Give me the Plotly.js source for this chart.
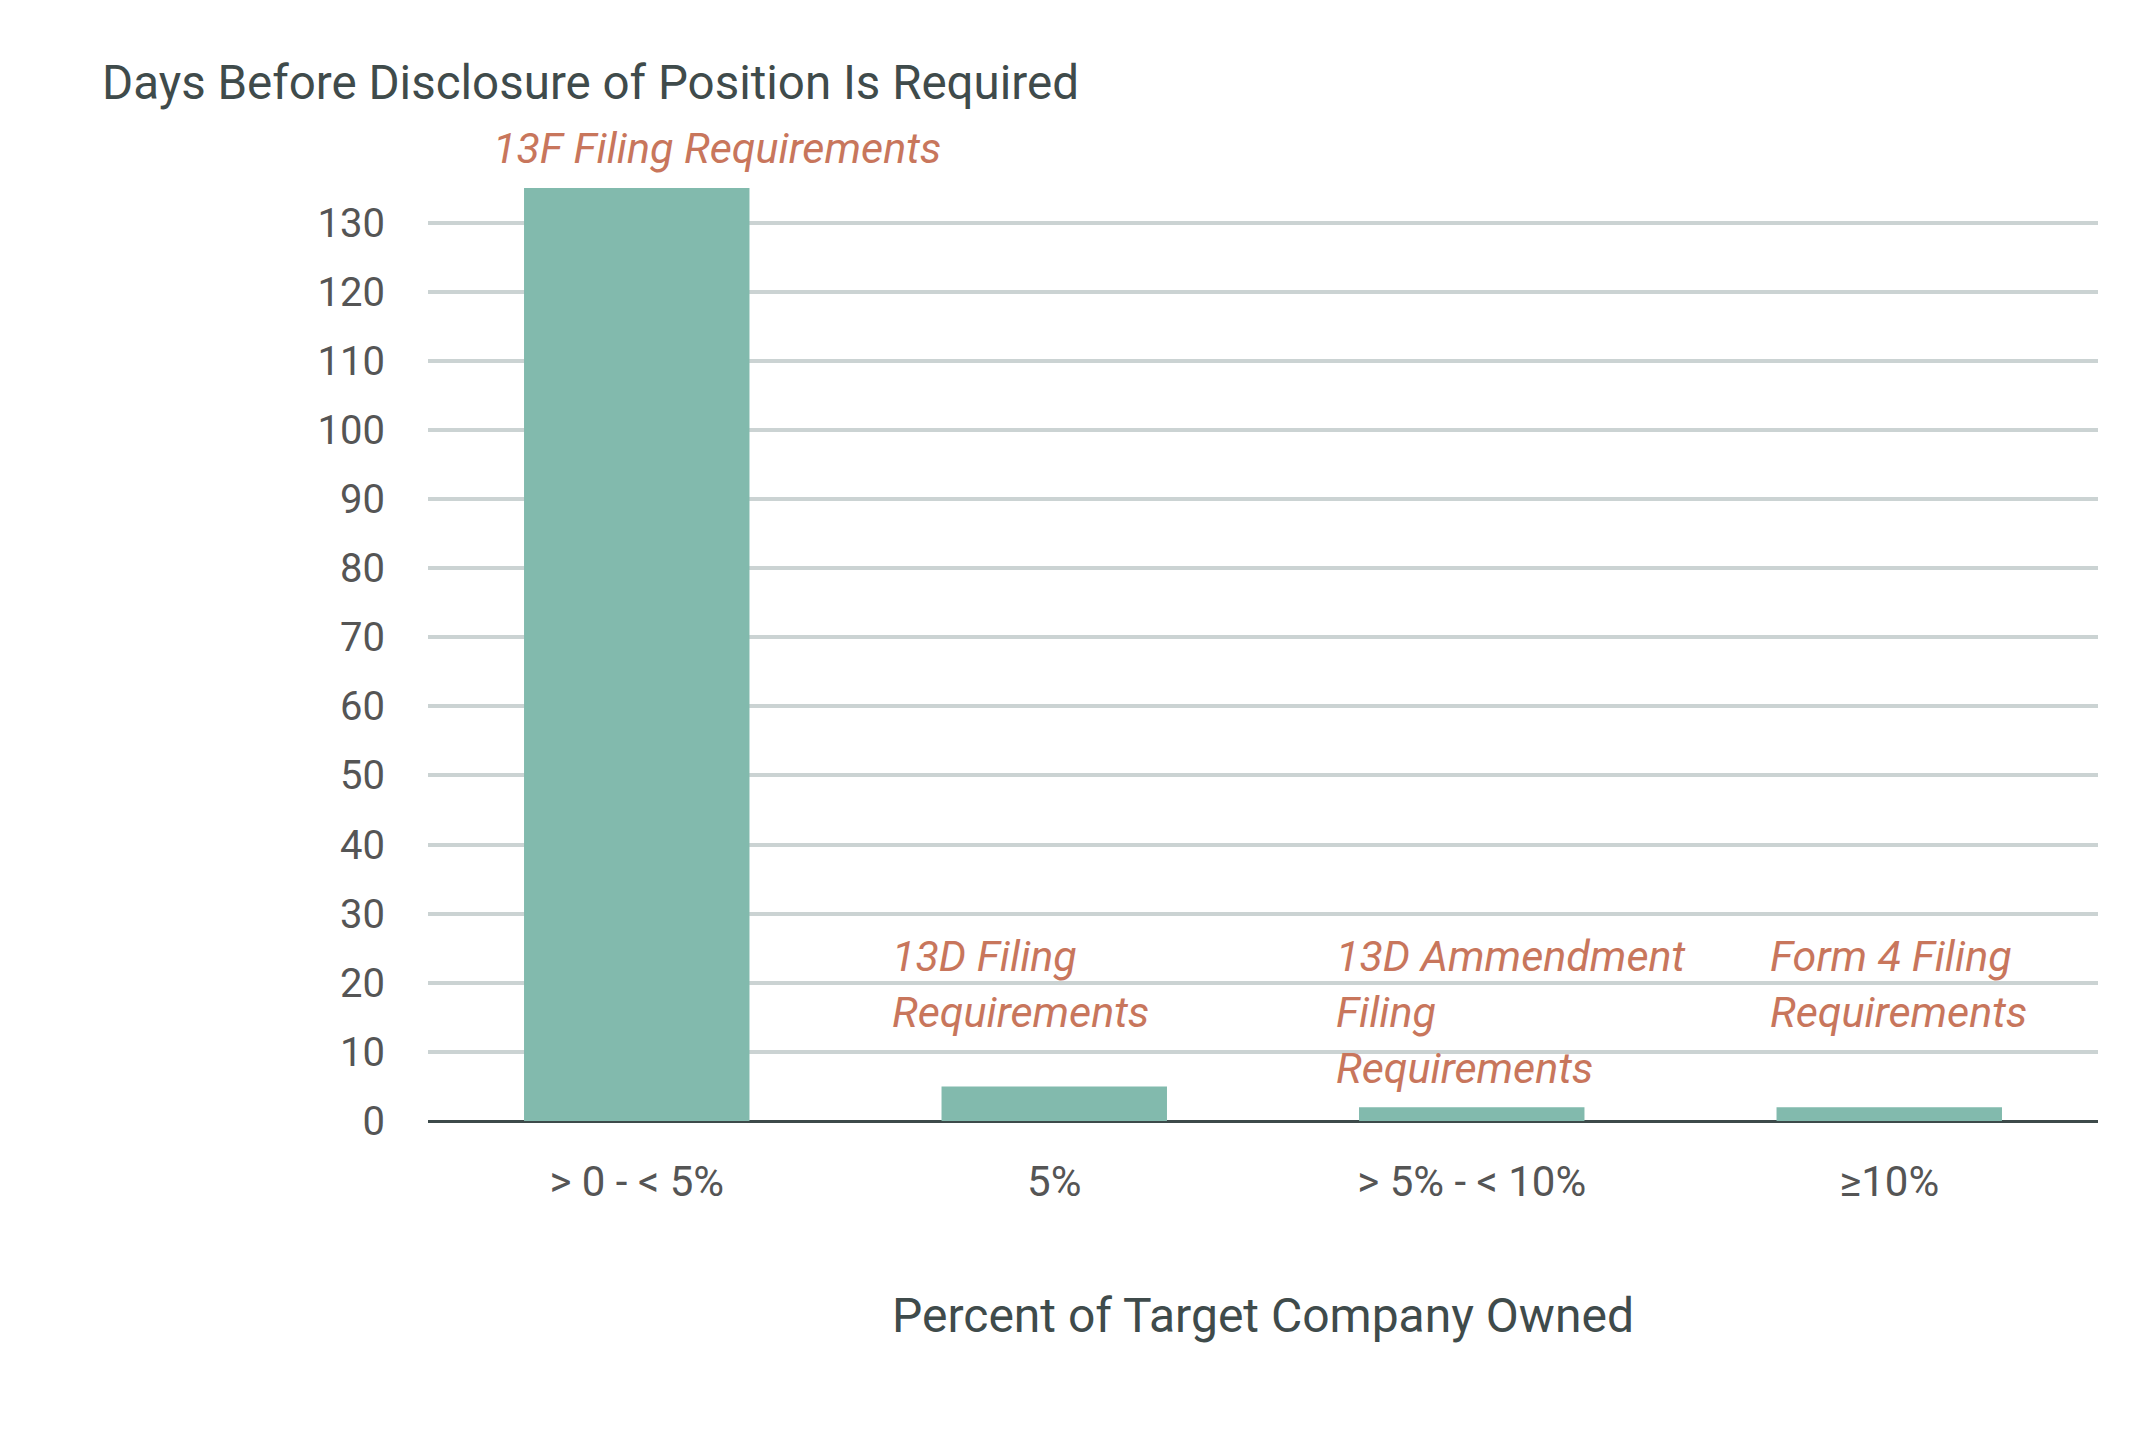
<!DOCTYPE html>
<html>
<head>
<meta charset="utf-8">
<script src="https://cdn.plot.ly/plotly-3.0.1.min.js"></script>
<style>
  html, body { margin: 0; padding: 0; background: #ffffff; }
  #chart { width: 2145px; height: 1444px; }
</style>
</head>
<body>
<div id="chart"></div>
<script>
// Data
const categories = ["> 0 - < 5%", "5%", "> 5% - < 10%", "\u226510%"];
const daysBeforeDisclosure = [135, 5, 2, 2];
const filingLabels = [
  "13F Filing Requirements",
  "13D Filing<br>Requirements",
  "13D Ammendment<br>Filing<br>Requirements",
  "Form 4 Filing<br>Requirements"
];
const yTickValues = [0, 10, 20, 30, 40, 50, 60, 70, 80, 90, 100, 110, 120, 130];

// Label placement (styling only)
const Y_MAX = 135;
const labelY = [140.8, 19.8, 15.7, 19.8];
const labelShift = [-146, -164, -138, -121];

const FONT = "Roboto, 'Liberation Sans', sans-serif";
const ANN_COLOR = "#c8765c";

const trace = {
  type: "bar",
  x: categories,
  y: daysBeforeDisclosure,
  marker: { color: "#82baad" },
  hoverinfo: "x+y",
  cliponaxis: false
};

// Labels referenced to the category axis (x) and to the y-axis domain (fraction of range)
const annotations = filingLabels.map((t, i) => ({
  xref: "x", yref: "y domain",
  x: i, y: labelY[i] / Y_MAX,
  xanchor: "left", yanchor: "middle",
  xshift: labelShift[i],
  align: "left",
  showarrow: false,
  text: "<i>" + t + "</i>",
  font: { family: FONT, size: 43, color: ANN_COLOR }
}));

const layout = {
  width: 2145,
  height: 1444,
  paper_bgcolor: "#ffffff",
  plot_bgcolor: "#ffffff",
  margin: { l: 428, r: 47, t: 188, b: 323, pad: 0 },
  bargap: 0.46,
  showlegend: false,
  font: { family: FONT, color: "#555555" },
  title: {
    text: "Days Before Disclosure of Position Is Required",
    font: { family: FONT, size: 47.5, color: "#3f4b4b" },
    xref: "container", yref: "container",
    x: 102 / 2145, xanchor: "left",
    y: 1 - 82 / 1444, yanchor: "middle"
  },
  xaxis: {
    type: "category",
    tickfont: { family: FONT, size: 42, color: "#555555" },
    ticks: "outside", ticklen: 24, tickcolor: "rgba(0,0,0,0)",
    showgrid: false, showline: false, zeroline: false,
    title: {
      text: "Percent of Target Company Owned",
      font: { family: FONT, size: 48, color: "#3f4b4b" },
      standoff: 92
    }
  },
  yaxis: {
    range: [0, Y_MAX],
    tickvals: yTickValues,
    ticktext: yTickValues.map(String),
    tickfont: { family: FONT, size: 40, color: "#555555" },
    ticks: "outside", ticklen: 34, tickcolor: "rgba(0,0,0,0)",
    showgrid: true, gridcolor: "#cbd3d3", gridwidth: 4,
    zeroline: true, zerolinecolor: "#3d4a4a", zerolinewidth: 3,
    showline: false,
    fixedrange: true
  },
  annotations: annotations
};

Plotly.newPlot("chart", [trace], layout, { displayModeBar: false, staticPlot: true });
</script>
</body>
</html>
